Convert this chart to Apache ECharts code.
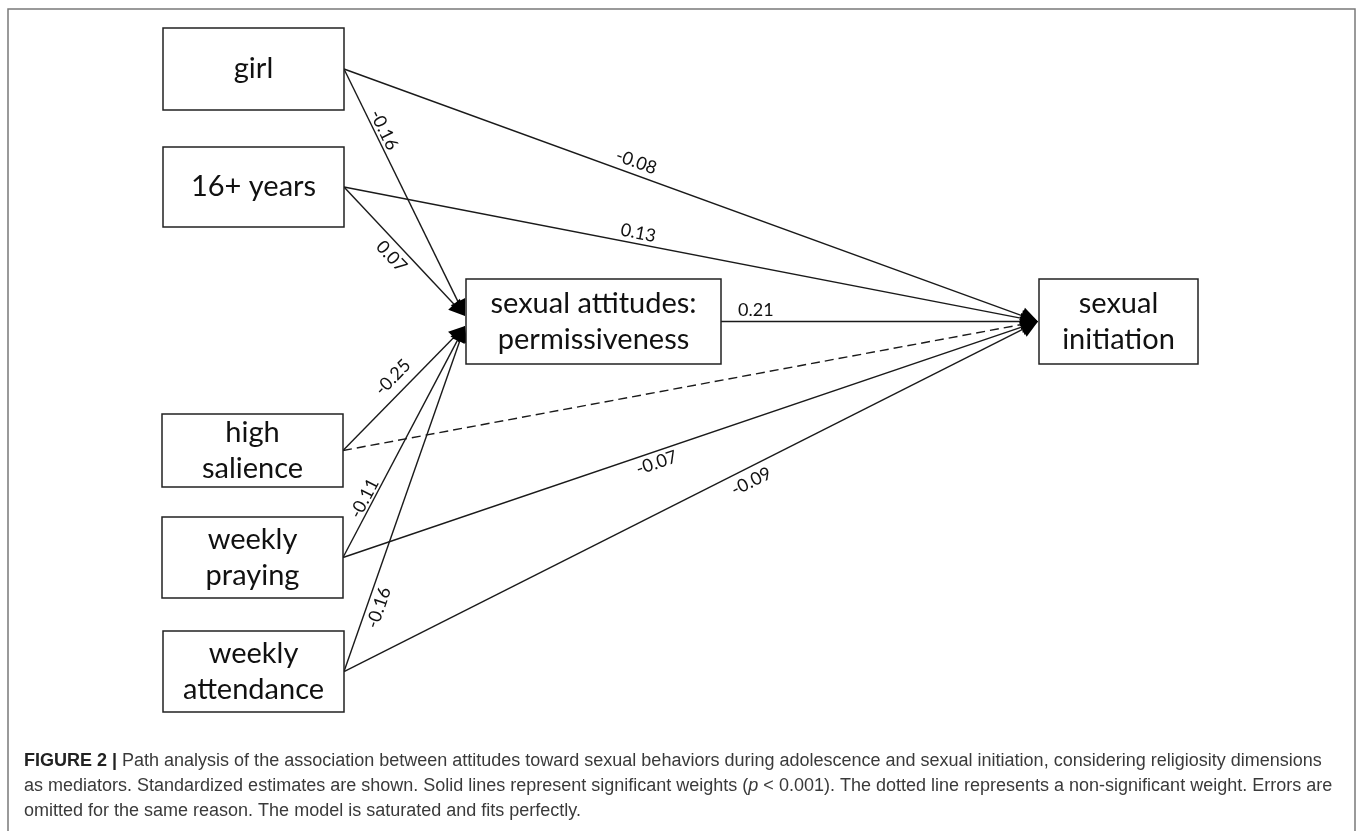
<!DOCTYPE html>
<html><head><meta charset="utf-8">
<script src="https://cdn.jsdelivr.net/npm/echarts@6/dist/echarts.min.js"></script>
<style>html,body{margin:0;padding:0;background:#fff}#chart{width:1357px;height:831px}</style>
</head><body><div id="chart"></div>
<script>
// ---------- data ----------
const nodeNames = ['girl', '16+ years', 'sexual attitudes:\npermissiveness', 'sexual\ninitiation', 'high\nsalience', 'weekly\npraying', 'weekly\nattendance'];
const edgeFrom = [0, 0, 1, 1, 2, 4, 4, 5, 5, 6, 6];
const edgeTo   = [2, 3, 2, 3, 3, 2, 3, 2, 3, 2, 3];
const edgeEstimates = ['-0.16', '-0.08', '0.07', '0.13', '0.21', '-0.25', '', '-0.11', '-0.07', '-0.16', '-0.09'];
const edgeSignificant = [true, true, true, true, true, true, false, true, true, true, true];
const captionLine1 = 'Path analysis of the association between attitudes toward sexual behaviors during adolescence and sexual initiation, considering religiosity dimensions';
const captionLine2a = 'as mediators. Standardized estimates are shown. Solid lines represent significant weights (';
const captionLine2b = ' < 0.001). The dotted line represents a non-significant weight. Errors are';
const captionLine3 = 'omitted for the same reason. The model is saturated and fits perfectly.';

// ---------- diagram layout (units of the hidden axes) ----------
const nodeX = [253.5, 253.5, 593.5, 1118.5, 252.5, 252.5, 253.5];
const nodeY = [69, 187, 321.5, 321.5, 450.5, 557.5, 671.5];
const nodeW = [181, 181, 255, 159, 181, 181, 181];
const nodeH = [82, 80, 85, 85, 73, 81, 81];
const labelT = [0.263, 0.415, 0.47, 0.421, 0.11, 0.5, 0, 0.238, 0.446, 0.196, 0.578];
const labelOff = [9, 12.6, -13, 10.8, 11.5, 15.5, 0, 8.6, -11.3, -11.8, -13.8];

function edgeData(i) {
  const s = edgeFrom[i], t = edgeTo[i];
  const x1 = nodeX[s] + nodeW[s] / 2, y1 = nodeY[s];
  let x2 = nodeX[t] - nodeW[t] / 2 - 1, y2 = nodeY[t];
  if (t === 2) y2 += (nodeY[s] < nodeY[t] ? -5.5 : 4.5);
  return [x1, y1, x2, y2, i];
}

const FONT = 'Lato, "Open Sans", sans-serif';
const CAP = '18px "Liberation Sans", Arial, sans-serif';
const chart = echarts.init(document.getElementById('chart'));

chart.setOption({
  animation: false,
  backgroundColor: '#fff',
  grid: { left: 0, right: 0, top: 0, bottom: 0 },
  xAxis: { type: 'value', min: 0, max: 1357, show: false },
  yAxis: { type: 'value', min: 0, max: 831, inverse: true, show: false },
  graphic: [
    { type: 'rect', shape: { x: 8, y: 9, width: 1347, height: 830 }, style: { fill: 'none', stroke: '#7a7a7a', lineWidth: 1.5 }, z: 1 },
    { type: 'text', x: 24, y: 761, style: {
        text: '{b|FIGURE 2 |} ' + captionLine1,
        font: CAP, fill: '#3a3a3a', verticalAlign: 'middle',
        rich: { b: { font: 'bold ' + CAP, fill: '#222' } } } },
    { type: 'text', x: 24, y: 786, style: {
        text: captionLine2a + '{i|p}' + captionLine2b,
        font: CAP, fill: '#3a3a3a', verticalAlign: 'middle',
        rich: { i: { font: 'italic ' + CAP, fill: '#3a3a3a' } } } },
    { type: 'text', x: 24, y: 811, style: {
        text: captionLine3,
        font: CAP, fill: '#3a3a3a', verticalAlign: 'middle' } }
  ],
  series: [
    {
      type: 'custom',
      name: 'paths',
      coordinateSystem: 'cartesian2d',
      encode: { x: [0, 2], y: [1, 3] },
      data: edgeFrom.map((_, i) => edgeData(i)),
      z: 2,
      renderItem: function (params, api) {
        const i = api.value(4);
        const p1 = api.coord([api.value(0), api.value(1)]);
        const p2 = api.coord([api.value(2), api.value(3)]);
        const dx = p2[0] - p1[0], dy = p2[1] - p1[1];
        const len = Math.sqrt(dx * dx + dy * dy);
        const ux = dx / len, uy = dy / len;
        const toOutcome = edgeTo[i] === 3;
        const L = toOutcome ? 17 : 16, hw = toOutcome ? 8.5 : 8;
        const bx = p2[0] - ux * L, by = p2[1] - uy * L;
        const children = [];
        children.push({
          type: 'line',
          shape: { x1: p1[0], y1: p1[1], x2: bx + ux * 2, y2: by + uy * 2 },
          style: { stroke: '#1a1a1a', lineWidth: 1.4, lineDash: edgeSignificant[i] ? null : [9, 5] }
        });
        children.push({
          type: 'polygon',
          shape: { points: [[p2[0], p2[1]], [bx - uy * hw, by + ux * hw], [bx + uy * hw, by - ux * hw]] },
          style: { fill: '#000' }
        });
        if (edgeEstimates[i]) {
          const t = labelT[i], off = labelOff[i];
          const nx = uy, ny = -ux;
          const lx = p1[0] + dx * t + nx * off, ly = p1[1] + dy * t + ny * off;
          children.push({
            type: 'text', x: lx, y: ly, rotation: -Math.atan2(dy, dx),
            style: { text: edgeEstimates[i], x: 0, y: 0, align: 'center', verticalAlign: 'middle',
                     font: '18px ' + FONT, fill: '#111' }
          });
        }
        return { type: 'group', children: children };
      }
    },
    {
      type: 'custom',
      name: 'variables',
      coordinateSystem: 'cartesian2d',
      encode: { x: 0, y: 1 },
      data: nodeNames.map((n, i) => [nodeX[i], nodeY[i], i]),
      z: 3,
      renderItem: function (params, api) {
        const i = api.value(2);
        const c = api.coord([api.value(0), api.value(1)]);
        const sz = api.size([nodeW[i], nodeH[i]]);
        return {
          type: 'group',
          children: [
            { type: 'rect', shape: { x: c[0] - sz[0] / 2, y: c[1] - sz[1] / 2, width: sz[0], height: sz[1] },
              style: { fill: '#fff', stroke: '#222', lineWidth: 1.5 } },
            { type: 'text', style: { text: nodeNames[i], x: c[0], y: c[1], align: 'center', verticalAlign: 'middle',
                font: '29px ' + FONT, lineHeight: 36, fill: '#111' } }
          ]
        };
      }
    }
  ]
});
</script>
</body></html>
